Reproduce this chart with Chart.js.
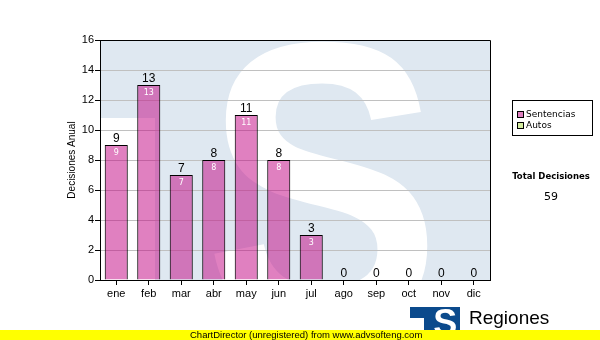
<!DOCTYPE html>
<html>
<head>
<meta charset="utf-8">
<script src="https://cdn.jsdelivr.net/npm/chart.js@4"></script>
<style>
  html, body { margin: 0; padding: 0; background: #fff; }
  #wrap { width: 600px; height: 340px; }
</style>
</head>
<body>
<div id="wrap"><canvas id="c" width="600" height="340"></canvas></div>
<script>
const categories = ['ene', 'feb', 'mar', 'abr', 'may', 'jun', 'jul', 'ago', 'sep', 'oct', 'nov', 'dic'];
const sentencias = [9, 13, 7, 8, 11, 8, 3, 0, 0, 0, 0, 0];
const autos = [0, 0, 0, 0, 0, 0, 0, 0, 0, 0, 0, 0];
const seriesNames = ['Sentencias', 'Autos'];
const yMin = 0, yMax = 16, yStep = 2;
const yTitle = 'Decisiones Anual';
const totalTitle = 'Total Decisiones';
const footerText = 'ChartDirector (unregistered) from www.advsofteng.com';
const logoTitle = 'Regiones';
const logoSub = 'Tribunal Supremo de Justicia';

const SANS = '"Liberation Sans", Arial, sans-serif';
const VERD = '"DejaVu Sans", Verdana, sans-serif';

function drawFittedGlyph(ctx, ch, font, x, y, w, h) {
  ctx.save();
  ctx.font = font;
  ctx.textAlign = 'left';
  ctx.textBaseline = 'alphabetic';
  const m = ctx.measureText(ch);
  const gw = m.actualBoundingBoxLeft + m.actualBoundingBoxRight;
  const gh = m.actualBoundingBoxAscent + m.actualBoundingBoxDescent;
  ctx.translate(x, y);
  ctx.scale(w / gw, h / gh);
  ctx.fillText(ch, m.actualBoundingBoxLeft, m.actualBoundingBoxAscent);
  ctx.restore();
}

const decoPlugin = {
  id: 'deco',
  beforeDraw(chart) {
    const { ctx, chartArea: a } = chart;
    ctx.save();
    ctx.fillStyle = '#ffffff';
    ctx.fillRect(0, 0, chart.width, chart.height);
    ctx.beginPath();
    ctx.rect(a.left, a.top, a.right - a.left, a.bottom - a.top);
    ctx.clip();
    ctx.fillStyle = '#dfe8f1';
    ctx.fillRect(a.left, a.top, a.right - a.left, a.bottom - a.top);
    ctx.fillStyle = '#ffffff';
    ctx.fillRect(a.left, a.top + 78, 55, a.bottom - a.top);
    // big white S watermark
    drawFittedGlyph(ctx, 'S', 'bold 200px "Liberation Sans", sans-serif', a.left + 113, a.top + 1, 215, 290);
    ctx.restore();
  },
  afterDatasetsDraw(chart) {
    const { ctx, scales } = chart;
    const meta = chart.getDatasetMeta(0);
    ctx.save();
    ctx.textAlign = 'center';
    meta.data.forEach((bar, i) => {
      const total = sentencias[i] + autos[i];
      const yTop = scales.y.getPixelForValue(total);
      ctx.fillStyle = '#000';
      ctx.font = '12px ' + SANS;
      ctx.textBaseline = 'bottom';
      ctx.fillText(String(total), bar.x, yTop - 0.5);
      if (sentencias[i] > 0) {
        ctx.fillStyle = '#ffffff';
        ctx.font = '8px ' + VERD;
        ctx.textBaseline = 'middle';
        ctx.fillText(String(sentencias[i]), bar.x, scales.y.getPixelForValue(sentencias[i]) + 7.5);
      }
    });
    ctx.restore();
  },
  afterDraw(chart) {
    const { ctx, chartArea: a } = chart;
    ctx.save();
    // top and right border of plot
    ctx.strokeStyle = '#000';
    ctx.lineWidth = 1;
    ctx.beginPath();
    ctx.moveTo(a.left, Math.round(a.top) + 0.5);
    ctx.lineTo(Math.round(a.right) + 0.5, Math.round(a.top) + 0.5);
    ctx.lineTo(Math.round(a.right) + 0.5, a.bottom);
    ctx.stroke();

    // legend box
    ctx.fillStyle = '#fff';
    ctx.fillRect(512, 100, 80, 35);
    ctx.strokeRect(512.5, 100.5, 80, 35);
    const colors = [chart.data.datasets[0].legendColor, chart.data.datasets[1].legendColor];
    seriesNames.forEach((name, i) => {
      const y = 111 + i * 11;
      ctx.fillStyle = colors[i];
      ctx.fillRect(517, y, 6, 6);
      ctx.strokeStyle = '#000';
      ctx.strokeRect(517.5, y + 0.5, 6, 6);
      ctx.fillStyle = '#000';
      ctx.font = '9px ' + VERD;
      ctx.textAlign = 'left';
      ctx.textBaseline = 'middle';
      ctx.fillText(name, 526, y + 3.5);
    });

    // total
    const total = sentencias.reduce((s, v) => s + v, 0) + autos.reduce((s, v) => s + v, 0);
    ctx.textAlign = 'center';
    ctx.textBaseline = 'middle';
    ctx.fillStyle = '#000';
    ctx.font = 'bold 8.5px ' + VERD;
    ctx.fillText(totalTitle, 551, 177);
    ctx.font = '11px ' + VERD;
    ctx.fillText(String(total), 551, 197);

    // bottom logo
    ctx.fillStyle = '#0b4a8c';
    ctx.fillRect(410, 307, 18, 11);
    ctx.fillRect(424, 307, 36, 26);
    ctx.fillStyle = '#ffffff';
    drawFittedGlyph(ctx, 'S', 'bold 100px "Liberation Sans", sans-serif', 434, 309, 22, 26);
    ctx.fillStyle = '#000';
    ctx.textAlign = 'left';
    ctx.textBaseline = 'alphabetic';
    ctx.font = '19px ' + SANS;
    ctx.fillText(logoTitle, 469, 324);
    ctx.font = '9px ' + SANS;
    ctx.fillText(logoSub, 467, 337);

    // footer
    ctx.fillStyle = '#ffff00';
    ctx.fillRect(0, 330, 600, 10);
    ctx.fillStyle = '#000';
    ctx.font = '9.5px ' + SANS;
    ctx.textBaseline = 'middle';
    ctx.fillText(footerText, 190, 335);
    ctx.restore();
  }
};

new Chart(document.getElementById('c'), {
  type: 'bar',
  data: {
    labels: categories,
    datasets: [
      {
        label: seriesNames[0],
        data: sentencias,
        backgroundColor: 'rgba(193,1,129,0.5)',
        legendColor: '#df80c0',
        borderColor: '#000',
        borderWidth: 1,
        borderSkipped: 'bottom'
      },
      {
        label: seriesNames[1],
        data: autos,
        backgroundColor: 'rgba(170,220,100,0.5)',
        legendColor: '#d4eca0',
        borderColor: '#000',
        borderWidth: 0
      }
    ]
  },
  options: {
    responsive: false,
    animation: false,
    events: [],
    layout: { padding: { left: 62, right: 110, top: 40, bottom: 40 } },
    datasets: { bar: { barPercentage: 0.71, categoryPercentage: 1 } },
    plugins: { legend: { display: false }, tooltip: { enabled: false }, title: { display: false } },
    scales: {
      x: {
        stacked: true,
        offset: true,
        grid: { drawOnChartArea: false, offset: false, tickColor: '#000', tickLength: 5 },
        border: { color: '#000', width: 1 },
        ticks: { color: '#000', font: { family: SANS, size: 11 }, padding: 2, maxRotation: 0, autoSkip: false },
        afterFit(s) { s.height = 20; }
      },
      y: {
        stacked: true,
        min: yMin,
        max: yMax,
        ticks: { stepSize: yStep, color: '#000', font: { family: SANS, size: 11 }, padding: 1 },
        grid: { color: '#c0c0c0', tickColor: '#000', tickLength: 5 },
        border: { color: '#000', width: 1 },
        title: { display: true, text: yTitle, color: '#000', font: { family: SANS, size: 10 }, padding: { top: 4, bottom: 4 } },
        afterFit(s) { s.width = 38; }
      }
    }
  },
  plugins: [decoPlugin]
});
</script>
</body>
</html>
